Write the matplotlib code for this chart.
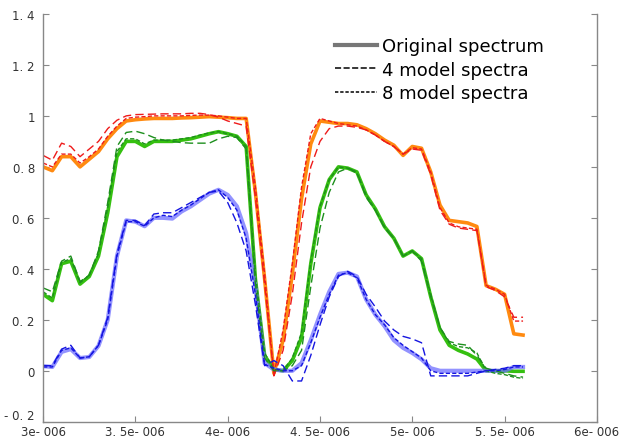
import numpy as np
import matplotlib
matplotlib.use("Agg")
import matplotlib.pyplot as plt
from matplotlib.lines import Line2D

# wavelength grid (in micrometres, scaled to metres below)
wl_um = [3.00, 3.05, 3.10, 3.15, 3.20, 3.25, 3.30, 3.35, 3.40, 3.45,
         3.50, 3.55, 3.60, 3.65, 3.70, 3.75, 3.80, 3.85, 3.90, 3.95,
         4.00, 4.05, 4.10, 4.15, 4.20, 4.25, 4.30, 4.35, 4.40, 4.45,
         4.50, 4.55, 4.60, 4.65, 4.70, 4.75, 4.80, 4.85, 4.90, 4.95,
         5.00, 5.05, 5.10, 5.15, 5.20, 5.25, 5.30, 5.35, 5.40, 5.45,
         5.50, 5.55, 5.60]

# spectrum 1 (orange / red)
orig_1 = [.80, .785, .84, .84, .80, .83, .86, .91, .95, .98,
          .985, .988, .99, .99, .99, .992, .993, .995, .997, .995,
          .993, .99, .99, .70, .36, -.01, .12, .38, .675, .89,
          .98, .975, .97, .97, .965, .95, .93, .905, .885, .845,
          .88, .873, .78, .65, .59, .585, .58, .566, .334, .32,
          .30, .145, .14]
m4_1 = [.845, .826, .893, .88, .84, .87, .90, .95, .983, 1.0,
        1.005, 1.006, 1.007, 1.008, 1.008, 1.008, 1.01, 1.01, 1.005, .995,
        .98, .97, .96, .68, .34, -.02, .08, .30, .58, .80,
        .90, .95, .96, .96, .955, .945, .925, .90, .88, .85,
        .87, .865, .77, .63, .575, .56, .555, .55, .33, .315,
        .29, .21, .21]
m8_1 = [.815, .80, .85, .85, .815, .84, .87, .92, .96, .99,
        .995, .997, 1.0, 1.0, 1.0, 1.0, 1.002, 1.003, 1.003, 1.0,
        .995, .99, .99, .72, .38, -.015, .16, .42, .72, .93,
        .99, .98, .97, .965, .96, .945, .925, .90, .88, .85,
        .875, .87, .78, .64, .58, .565, .56, .555, .335, .32,
        .30, .195, .195]

# spectrum 2 (green)
orig_2 = [.30, .275, .42, .43, .34, .37, .45, .62, .84, .90,
          .90, .88, .90, .90, .90, .905, .91, .92, .93, .938,
          .93, .92, .88, .36, .06, .005, .0, .04, .13, .42,
          .64, .75, .80, .795, .78, .69, .635, .565, .52, .45,
          .47, .44, .29, .16, .10, .08, .066, .046, .0, .0,
          .0, -.002, -.002]
m4_2 = [.325, .31, .43, .45, .35, .375, .47, .66, .88, .935,
        .94, .93, .915, .905, .90, .895, .893, .893, .893, .91,
        .92, .915, .87, .34, .05, .0, .0, .02, .08, .33,
        .56, .70, .78, .795, .78, .68, .63, .56, .52, .45,
        .47, .43, .29, .17, .115, .105, .10, .06, .01, .0,
        -.01, -.02, -.025]
m8_2 = [.31, .285, .425, .44, .345, .375, .46, .64, .86, .91,
        .91, .89, .905, .905, .905, .91, .915, .925, .933, .938,
        .93, .92, .88, .38, .07, .005, .0, .05, .15, .43,
        .645, .75, .80, .795, .775, .69, .63, .565, .52, .45,
        .47, .44, .30, .17, .11, .095, .09, .07, .0, -.01,
        -.015, -.025, -.03]

# spectrum 3 (blue)
orig_3 = [.018, .015, .074, .085, .05, .054, .098, .20, .45, .59,
          .585, .567, .60, .60, .597, .625, .645, .67, .695, .71,
          .69, .645, .54, .33, .03, .005, .0, .0, .03, .12,
          .22, .31, .38, .385, .37, .28, .22, .175, .12, .09,
          .07, .045, .01, .0, .0, .0, .0, .0, .0, .0,
          .0, .015, .015]
m4_3 = [.02, .02, .085, .10, .05, .055, .10, .21, .46, .59,
        .59, .57, .615, .62, .62, .64, .66, .68, .70, .705,
        .66, .58, .47, .26, .02, .04, .02, -.04, -.04, .06,
        .18, .29, .37, .39, .37, .30, .25, .195, .16, .135,
        .125, .11, -.02, -.02, -.02, -.02, -.02, -.01, .0, .005,
        .01, .02, .02]
m8_3 = [.015, .015, .08, .09, .05, .055, .10, .20, .45, .585,
        .585, .567, .60, .61, .605, .63, .65, .675, .70, .71,
        .68, .63, .52, .30, .025, .01, .0, .0, .02, .11,
        .21, .30, .375, .385, .365, .28, .22, .18, .13, .10,
        .075, .05, .0, -.01, -.01, -.01, -.01, -.005, .0, .0,
        .005, .015, .015]

x_ticks = [3e-6, 3.5e-6, 4e-6, 4.5e-6, 5e-6, 5.5e-6, 6e-6]
x_labels = ["3e- 006", "3. 5e- 006", "4e- 006", "4. 5e- 006", "5e- 006", "5. 5e- 006", "6e- 006"]
y_ticks = [-0.2, 0, 0.2, 0.4, 0.6, 0.8, 1, 1.2, 1.4]
y_labels = ["- 0. 2", "0", "0. 2", "0. 4", "0. 6", "0. 8", "1", "1. 2", "1. 4"]

wl = np.array(wl_um) * 1e-6

fig = plt.figure(figsize=(6.25, 4.39), dpi=100)
ax = fig.add_axes([0.069, 0.037, 0.886, 0.929])

# originals: thick lines
ax.plot(wl, orig_1, color="#ff8a10", lw=2.6, solid_joinstyle="round")
ax.plot(wl, orig_2, color="#35c010", lw=2.6, solid_joinstyle="round")
ax.plot(wl, orig_3, color="#6f6fff", lw=3.0, alpha=0.75, solid_joinstyle="round")

# model fits
long_dash = (6, 3)
short_dash = (3, 1.6)
ax.plot(wl, m4_1, color="#ee1b1b", lw=1.0, dashes=long_dash)
ax.plot(wl, m8_1, color="#ee1b1b", lw=1.0, dashes=short_dash)
ax.plot(wl, m4_2, color="#1d8f1d", lw=1.0, dashes=long_dash)
ax.plot(wl, m8_2, color="#1d8f1d", lw=1.0, dashes=short_dash)
ax.plot(wl, m4_3, color="#1515e0", lw=1.0, dashes=long_dash)
ax.plot(wl, m8_3, color="#1515e0", lw=1.0, dashes=short_dash)

ax.set_xlim(3e-6, 6e-6)
ax.set_ylim(-0.2, 1.4)
ax.set_xticks(x_ticks)
ax.set_xticklabels(x_labels)
ax.set_yticks(y_ticks)
ax.set_yticklabels(y_labels)

ax.spines["top"].set_visible(False)
for s in ["left", "right", "bottom"]:
    ax.spines[s].set_color("#888888")
    ax.spines[s].set_linewidth(1.0)
ax.tick_params(direction="in", length=4, width=0.8, color="#888888",
               labelsize=8.5, labelcolor="#333333", right=True, top=False)
ax.tick_params(axis="x", pad=2)
ax.tick_params(axis="y", pad=6)
# lift the lowest y label a little so it clears the first x label
ax.get_yticklabels()[0].set_va("bottom")

handles = [Line2D([], [], color="#777777", lw=3),
           Line2D([], [], color="black", lw=1.1, dashes=(4, 1.6)),
           Line2D([], [], color="black", lw=1.1, dashes=(2.2, 1.2))]
fig.legend(handles, ["Original spectrum", "4 model spectra", "8 model spectra"],
           loc="upper left", bbox_to_anchor=(0.536, 0.913), frameon=False,
           fontsize=13, handlelength=2.3, handletextpad=0.3, labelspacing=0.3,
           borderpad=0, borderaxespad=0)

fig.savefig("out.png", dpi=100)
